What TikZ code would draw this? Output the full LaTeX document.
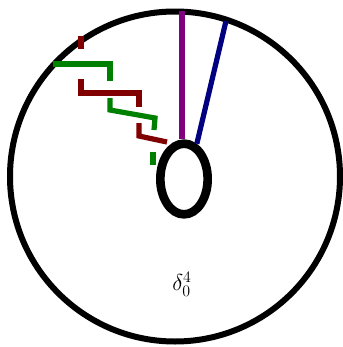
\documentclass[tikz,border=0pt]{standalone}
\usepackage{amsmath}
\usepackage{tikz}
\usetikzlibrary{positioning,shapes.geometric}
\definecolor{braidred}{RGB}{128,0,0}
\definecolor{braidgreen}{RGB}{0,128,0}
\definecolor{braidpurple}{RGB}{128,0,128}
\definecolor{braidblue}{RGB}{0,0,128}

\begin{document}
\begin{tikzpicture}[x=0.75pt,y=-0.75pt,
  strand/.style={line width=3.9pt},
  rim/.style={line width=4.5pt,black}]
  \useasboundingbox (0,0) rectangle (343,347);
  % ---------------- disc and hole ----------------
  \draw[rim] (175,176.5) circle (165);
  \node[draw,rim,line width=6.5pt,ellipse,minimum width=35.5pt,minimum height=53pt,inner sep=0pt] (hole) at (184,179) {};
  % ---------------- straight strands ----------------
  \coordinate (ptop) at (182,11);
  \coordinate (btop) at (226,21);
  \draw[strand,braidpurple] (ptop) -- (ptop |- hole.north);
  \draw[strand,braidblue] (btop) -- (hole.70);
  % ---------------- braided strands ----------------
  \draw[strand,braidred] (81,36) -- (81,49);
  \draw[strand,braidred] (81,79) -- (81,93) -- (139,93) -- (139,107);
  \draw[strand,braidred] (139,123) -- (139,136) -- (167,142);
  \draw[strand,braidgreen] (53,64) -- (110,64) -- (110,81);
  \draw[strand,braidgreen] (110,98) -- (110,110) -- (155,118) -- (154,130);
  \draw[strand,braidgreen] (153,152) -- (153,165);
  % ---------------- label ----------------
  \node[font=\LARGE] (lab) at (182,284) {$\delta_0^4$};
\end{tikzpicture}
\end{document}
